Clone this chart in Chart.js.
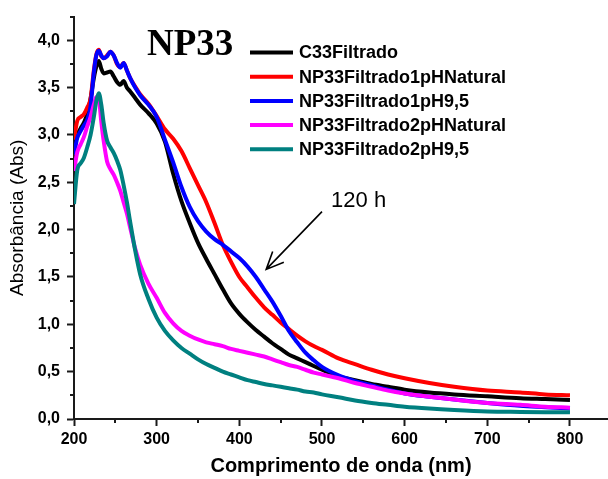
<!DOCTYPE html>
<html>
<head>
<meta charset="utf-8">
<script src="https://cdn.jsdelivr.net/npm/chart.js@4/dist/chart.umd.min.js"></script>
<style>
  html, body { margin: 0; padding: 0; background: #fff; }
  #wrap { width: 608px; height: 479px; position: relative; }
</style>
</head>
<body>
<div id="wrap"><canvas id="c" width="608" height="479"></canvas></div>
<script>
// UV-Vis spectra, wavelength (nm) vs absorbance
const wavelengths = [200,204,208,212,216,220,224,227,230,233,236,240,244,248,252,256,260,264,268,274,280,290,300,310,320,330,340,350,360,370,380,390,400,410,420,430,440,450,460,470,480,490,500,520,540,560,580,600,630,660,700,740,770,800];

const c33Filtrado = [2.85,3.0,3.07,3.13,3.22,3.38,3.6,3.72,3.78,3.7,3.65,3.66,3.67,3.62,3.56,3.53,3.57,3.5,3.46,3.39,3.32,3.23,3.12,2.93,2.59,2.30,2.07,1.86,1.69,1.53,1.37,1.22,1.11,1.02,0.94,0.87,0.80,0.74,0.68,0.64,0.60,0.56,0.52,0.45,0.41,0.37,0.34,0.31,0.28,0.26,0.24,0.22,0.21,0.20];

const np33F1Natural = [2.95,3.15,3.19,3.22,3.29,3.38,3.68,3.85,3.9,3.83,3.81,3.84,3.88,3.84,3.75,3.72,3.76,3.68,3.6,3.51,3.43,3.33,3.2,3.06,2.96,2.83,2.65,2.47,2.29,2.07,1.84,1.66,1.50,1.39,1.28,1.18,1.10,1.02,0.95,0.88,0.82,0.77,0.73,0.64,0.58,0.52,0.47,0.43,0.38,0.34,0.30,0.28,0.26,0.25];

const np33F1pH95 = [2.79,2.97,3.04,3.1,3.16,3.3,3.66,3.84,3.89,3.84,3.81,3.83,3.88,3.84,3.76,3.71,3.76,3.68,3.6,3.5,3.42,3.32,3.19,2.95,2.71,2.45,2.24,2.09,1.98,1.90,1.84,1.77,1.70,1.61,1.50,1.37,1.24,1.09,0.93,0.81,0.70,0.62,0.55,0.46,0.40,0.355,0.31,0.27,0.235,0.205,0.17,0.14,0.125,0.11];

const np33F2Natural = [2.62,2.82,2.9,2.98,3.09,3.19,3.32,3.4,3.38,3.14,2.93,2.72,2.64,2.58,2.5,2.41,2.29,2.17,2.02,1.80,1.63,1.43,1.28,1.12,1.01,0.93,0.88,0.84,0.81,0.79,0.77,0.74,0.72,0.70,0.68,0.66,0.63,0.60,0.57,0.55,0.52,0.49,0.47,0.43,0.38,0.34,0.30,0.27,0.235,0.205,0.17,0.15,0.13,0.12];

const np33F2pH95 = [2.27,2.63,2.7,2.76,2.87,3.0,3.19,3.36,3.44,3.32,3.12,2.94,2.87,2.81,2.73,2.63,2.47,2.29,2.08,1.78,1.53,1.27,1.07,0.93,0.83,0.75,0.69,0.63,0.58,0.54,0.50,0.47,0.44,0.41,0.39,0.37,0.355,0.34,0.325,0.31,0.29,0.28,0.26,0.23,0.195,0.17,0.15,0.13,0.11,0.095,0.08,0.075,0.072,0.07];

const seriesNames = ['C33Filtrado','NP33Filtrado1pHNatural','NP33Filtrado1pH9,5','NP33Filtrado2pHNatural','NP33Filtrado2pH9,5'];
const seriesValues = [c33Filtrado, np33F1Natural, np33F1pH95, np33F2Natural, np33F2pH95];
const seriesColors = ['#000000','#ff0000','#0000ff','#ff00ff','#008080'];

const xTicks = [200,300,400,500,600,700,800];
const xMinorTicks = [250,350,450,550,650,750];
const yTicks = [0,0.5,1,1.5,2,2.5,3,3.5,4];
const yTickLabels = ['0,0','0,5','1,0','1,5','2,0','2,5','3,0','3,5','4,0'];
const yMinorTicks = [0.25,0.75,1.25,1.75,2.25,2.75,3.25,3.75,4.25];

const chartTitle = 'NP33';
// annotation: label and arrow, given in data units
const noteText = '120 h';
const noteTextAt = { x: 511, y: 2.24 };
const noteArrowFrom = { x: 500, y: 2.19 };
const noteArrowTo = { x: 432.5, y: 1.58 };

const AXIS = '#1a1a1a';
const SANS = '"Liberation Sans", Arial, sans-serif';

const datasets = seriesNames.map((name, i) => ({
  label: name,
  data: wavelengths.map((w, k) => ({ x: w, y: seriesValues[i][k] })),
  borderColor: seriesColors[i],
  backgroundColor: seriesColors[i],
  borderWidth: 4,
  pointRadius: 0,
  fill: false,
  cubicInterpolationMode: 'monotone',
  order: seriesNames.length - 1 - i
}));

const extrasPlugin = {
  id: 'extras',
  afterDraw(chart) {
    const ctx = chart.ctx;
    const xs = chart.scales.x, ys = chart.scales.y;
    const area = chart.chartArea;
    ctx.save();
    // minor ticks
    ctx.strokeStyle = AXIS;
    ctx.lineWidth = 2;
    ctx.beginPath();
    xMinorTicks.forEach(v => {
      const px = Math.round(xs.getPixelForValue(v));
      ctx.moveTo(px, area.bottom);
      ctx.lineTo(px, area.bottom + 4);
    });
    yMinorTicks.forEach(v => {
      const py = Math.round(ys.getPixelForValue(v));
      ctx.moveTo(area.left, py);
      ctx.lineTo(area.left - 4, py);
    });
    ctx.stroke();

    // title
    ctx.fillStyle = '#000';
    ctx.font = 'bold 37px "Liberation Serif", "Times New Roman", serif';
    ctx.textBaseline = 'alphabetic';
    ctx.textAlign = 'left';
    ctx.fillText(chartTitle, 147, 55);

    // legend
    ctx.font = 'bold 18px ' + SANS;
    ctx.textBaseline = 'middle';
    chart.data.datasets.forEach((ds, i) => {
      const y = 52.5 + i * 24.2;
      ctx.strokeStyle = ds.borderColor;
      ctx.lineWidth = 4;
      ctx.beginPath();
      ctx.moveTo(250, y);
      ctx.lineTo(293, y);
      ctx.stroke();
      ctx.fillStyle = '#000';
      ctx.fillText(ds.label, 299, y + 1);
    });

    // annotation
    const ax0 = xs.getPixelForValue(noteArrowFrom.x), ay0 = ys.getPixelForValue(noteArrowFrom.y);
    const ax1 = xs.getPixelForValue(noteArrowTo.x), ay1 = ys.getPixelForValue(noteArrowTo.y);
    ctx.strokeStyle = '#000';
    ctx.lineWidth = 1.6;
    ctx.beginPath();
    ctx.moveTo(ax0, ay0);
    ctx.lineTo(ax1, ay1);
    const ang = Math.atan2(ay0 - ay1, ax0 - ax1);
    const head = 19, spread = 0.42;
    ctx.moveTo(ax1 + head * Math.cos(ang - spread), ay1 + head * Math.sin(ang - spread));
    ctx.lineTo(ax1, ay1);
    ctx.lineTo(ax1 + head * Math.cos(ang + spread), ay1 + head * Math.sin(ang + spread));
    ctx.stroke();
    ctx.fillStyle = '#000';
    ctx.font = '22px ' + SANS;
    ctx.textBaseline = 'alphabetic';
    ctx.fillText(noteText, xs.getPixelForValue(noteTextAt.x), ys.getPixelForValue(noteTextAt.y));
    ctx.restore();
  }
};

new Chart(document.getElementById('c'), {
  type: 'line',
  data: { datasets },
  options: {
    responsive: false,
    animation: false,
    devicePixelRatio: 1,
    layout: { padding: { left: 0, right: 0, top: 10, bottom: 0 } },
    plugins: { legend: { display: false }, tooltip: { enabled: false }, title: { display: false } },
    scales: {
      x: {
        type: 'linear',
        min: 200,
        max: 846,
        afterBuildTicks: s => { s.ticks = xTicks.map(v => ({ value: v })); },
        afterFit: s => { s.height = 60; },
        ticks: { color: '#000', font: { family: SANS, size: 16, weight: 'bold' }, padding: 4, maxRotation: 0, autoSkip: false },
        grid: { display: true, drawOnChartArea: false, drawTicks: true, tickLength: 7, tickWidth: 2, tickColor: AXIS },
        border: { display: true, width: 2, color: AXIS },
        title: { display: true, text: 'Comprimento de onda (nm)', color: '#000', font: { family: SANS, size: 20, weight: 'bold' }, padding: { top: 0, bottom: 1 } }
      },
      y: {
        type: 'linear',
        min: 0,
        max: 4.25,
        afterBuildTicks: s => { s.ticks = yTicks.map(v => ({ value: v })); },
        afterFit: s => { s.width = 74; },
        ticks: { color: '#000', font: { family: SANS, size: 16, weight: 'bold' }, padding: 7, autoSkip: false,
                 callback: (v, i) => yTickLabels[i] },
        grid: { display: true, drawOnChartArea: false, drawTicks: true, tickLength: 7, tickWidth: 2, tickColor: AXIS },
        border: { display: true, width: 2, color: AXIS },
        title: { display: true, text: 'Absorbância (Abs)', color: '#000', font: { family: SANS, size: 19, weight: 'normal' }, padding: { top: 6, bottom: 0 } }
      }
    }
  },
  plugins: [extrasPlugin]
});
</script>
</body>
</html>
